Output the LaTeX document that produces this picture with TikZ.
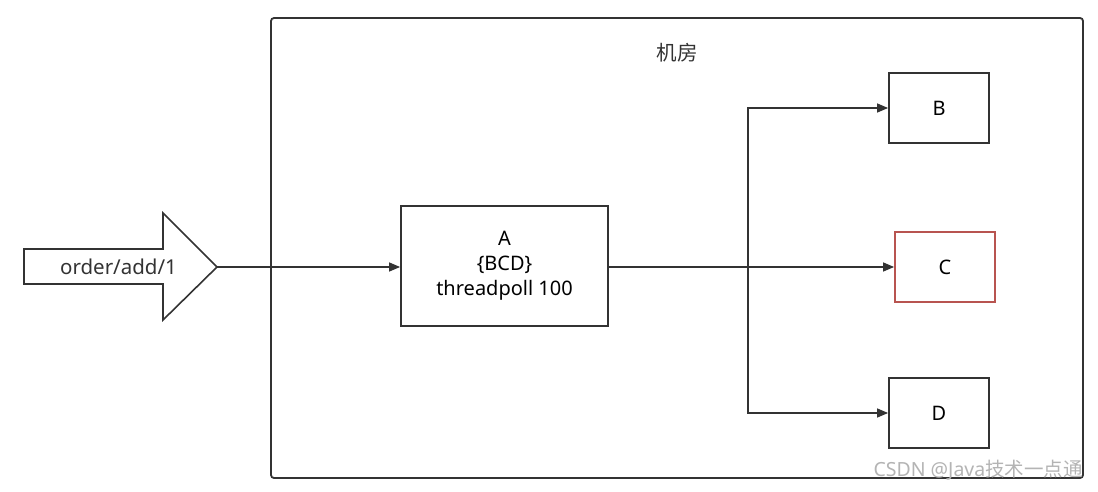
\documentclass[tikz,border=0pt]{standalone}
\usepackage{fontspec}
\setmainfont{Noto Sans}
\newfontfamily\cjk{Noto Sans CJK SC}
\usetikzlibrary{arrows.meta}
\definecolor{ln}{HTML}{333333}
\definecolor{redbox}{HTML}{B85450}
\definecolor{wm}{HTML}{B4B4B4}
\tikzset{
  box/.style={draw=ln, line width=1.8pt, fill=white, inner sep=0pt, font=\fontsize{20}{25}\selectfont, align=center},
  conn/.style={draw=ln, line width=1.4pt, -{Triangle[length=11pt,width=9pt]}},
}
\begin{document}
\begin{tikzpicture}[x=1pt,y=-1pt]
\useasboundingbox (0,0) rectangle (1098,492);
\fill[white] (0,0) rectangle (1098,492);
% container
\draw[ln, line width=1.8pt, rounded corners=3pt] (271,18) rectangle (1083,478);
\node[font=\cjk\fontsize{20.5}{24}\selectfont, text=ln] (title) at (677,53) {机房};
% big input arrow
\draw[ln, line width=1.6pt, fill=white, line join=miter]
  (24,249) -- (163,249) -- (163,213) -- (217,267) -- (163,320) -- (163,284) -- (24,284) -- cycle;
\coordinate (tip) at (217,267);
\node[font=\fontsize{20.5}{24}\selectfont, text=ln] (inlabel) at (118.5,267) {order/add/1};
% boxes
\node[box, minimum width=207pt, minimum height=120pt] (A) at (504.5,266) {A\\\{BCD\}\\threadpoll 100};
\node[box, minimum width=100pt, minimum height=70pt] (B) at (939,108) {B};
\node[box, draw=redbox, minimum width=100pt, minimum height=70pt] (C) at (945,267) {C};
\node[box, minimum width=100pt, minimum height=70pt] (D) at (939,413) {D};
% connectors
\draw[conn] (tip) -- (A.west |- tip);
\coordinate (j) at (748,267);
\draw[conn] (A.east |- j) -- (C.west |- j);
\draw[conn] (j) |- (B.west);
\draw[conn] (j) |- (D.west);
% watermark
\node[anchor=east, text=wm, font=\fontsize{19.5}{22}\selectfont, inner sep=0pt] (wmk) at (1083,470) {CSDN @Java{\cjk 技术一点通}};
\end{tikzpicture}
\end{document}
